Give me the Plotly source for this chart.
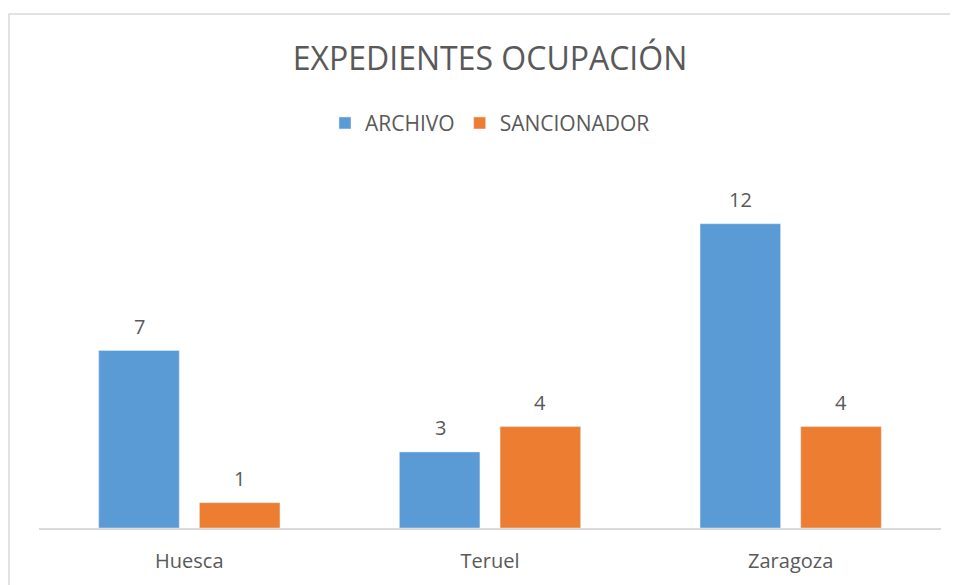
import plotly.graph_objects as go

provincias = ["Huesca", "Teruel", "Zaragoza"]
archivo = [7, 3, 12]
sancionador = [1, 4, 4]

TXT = "#595959"
FONT = "Open Sans"

fig = go.Figure()
fig.add_trace(go.Bar(x=provincias, y=archivo, name="ARCHIVO", marker_color="#5B9BD5"))
fig.add_trace(go.Bar(x=provincias, y=sancionador, name="SANCIONADOR", marker_color="#ED7D31"))

# data labels above each bar
for vals, shift in [(archivo, -50), (sancionador, 50)]:
    for cat, v in zip(provincias, vals):
        fig.add_annotation(x=cat, y=v, text=str(v), showarrow=False, xshift=shift,
                           yanchor="bottom", yshift=9, font=dict(size=20, color=TXT, family=FONT))

# page body adds 8px offset, so figure is 950x577
fig.update_layout(
    width=950, height=577,
    margin=dict(l=31, r=17, t=165, b=57),
    paper_bgcolor="white", plot_bgcolor="white",
    font=dict(family=FONT, color=TXT, size=20),
    title=dict(text="EXPEDIENTES OCUPACIÓN", x=0.5, xanchor="center", xref="paper",
               y=1 - 51 / 577, yanchor="middle", yref="container",
               font=dict(size=32, color=TXT, family=FONT)),
    legend=dict(orientation="h", x=0.5, xanchor="center", y=1.14, yanchor="middle",
                font=dict(size=21, color=TXT), itemclick=False),
    barmode="group", bargap=0.33, bargroupgap=0.2,
    showlegend=True,
)
fig.update_xaxes(showline=True, linecolor="#D9D9D9", linewidth=1.5, showgrid=False,
                 ticks="", ticklabelstandoff=14, automargin=False,
                 tickfont=dict(size=20, color=TXT))
fig.update_yaxes(range=[0, 14], visible=False, automargin=False)

# chart border
fig.add_shape(type="rect", xref="paper", yref="paper", x0=-30 / 902, x1=940 / 902,
              y0=-80 / 355, y1=514 / 355, line=dict(color="#D9D9D9", width=1.5), layer="below")

fig.write_html("out.html")
